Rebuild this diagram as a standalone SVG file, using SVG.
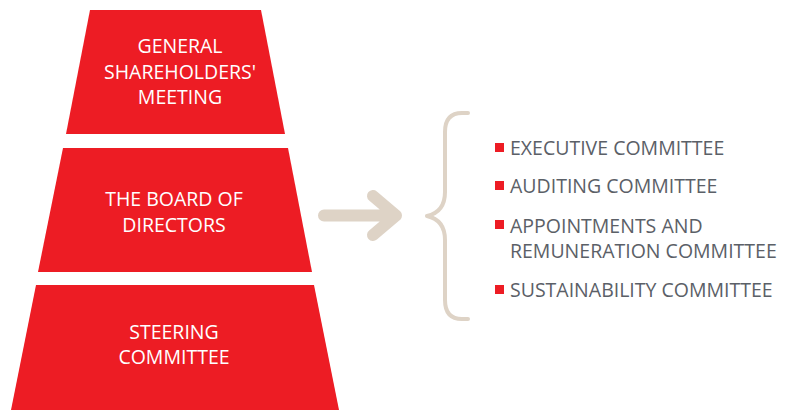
<svg xmlns="http://www.w3.org/2000/svg" width="785" height="410" viewBox="0 0 785 410">
<style>
.tier{fill:#ED1C24}
.tl{font-family:"Open Sans","Liberation Sans",sans-serif;font-size:19.5px;fill:#ffffff;text-anchor:middle}
.li{font-family:"Open Sans","Liberation Sans",sans-serif;font-size:19.5px;fill:#5b6067}
.sq{fill:#ED1C24}
.conn{fill:none;stroke:#DED3C6;stroke-linecap:round;stroke-linejoin:round}
</style>
<rect width="785" height="410" fill="#ffffff"/>
<g id="general-meeting">
<polygon class="tier" points="90,10 261,10 285,134 66,134"/>
<text class="tl" x="180" y="53">GENERAL</text>
<text class="tl" x="180" y="79">SHAREHOLDERS'</text>
<text class="tl" x="180" y="104">MEETING</text>
</g>
<g id="board">
<polygon class="tier" points="63,148 288,148 312,272 38,272"/>
<text class="tl" x="174" y="206">THE BOARD OF</text>
<text class="tl" x="174" y="232">DIRECTORS</text>
</g>
<g id="steering">
<polygon class="tier" points="36,285 314,285 339,410 11,410"/>
<text class="tl" x="174" y="339">STEERING</text>
<text class="tl" x="174" y="364">COMMITTEE</text>
</g>
<g id="connectors">
<path class="conn" stroke-width="12" d="M324 215.5 H396 M373 196 L396 215.5 L373 235"/>
<path class="conn" stroke-width="4" d="M468 113 H462 Q445 113 445 132 V192 Q445 212 427 216 Q445 220 445 240 V300 Q445 319 462 319 H468"/>
</g>
<g id="committees">
<rect class="sq" x="495" y="143" width="9" height="9"/>
<text class="li" x="510" y="155">EXECUTIVE COMMITTEE</text>
<rect class="sq" x="495" y="181" width="9" height="9"/>
<text class="li" x="510" y="193">AUDITING COMMITTEE</text>
<rect class="sq" x="495" y="220" width="9" height="9"/>
<text class="li" x="510" y="232.5">APPOINTMENTS AND</text>
<text class="li" x="510" y="258">REMUNERATION COMMITTEE</text>
<rect class="sq" x="495" y="285" width="9" height="9"/>
<text class="li" x="510" y="297">SUSTAINABILITY COMMITTEE</text>
</g>
</svg>
